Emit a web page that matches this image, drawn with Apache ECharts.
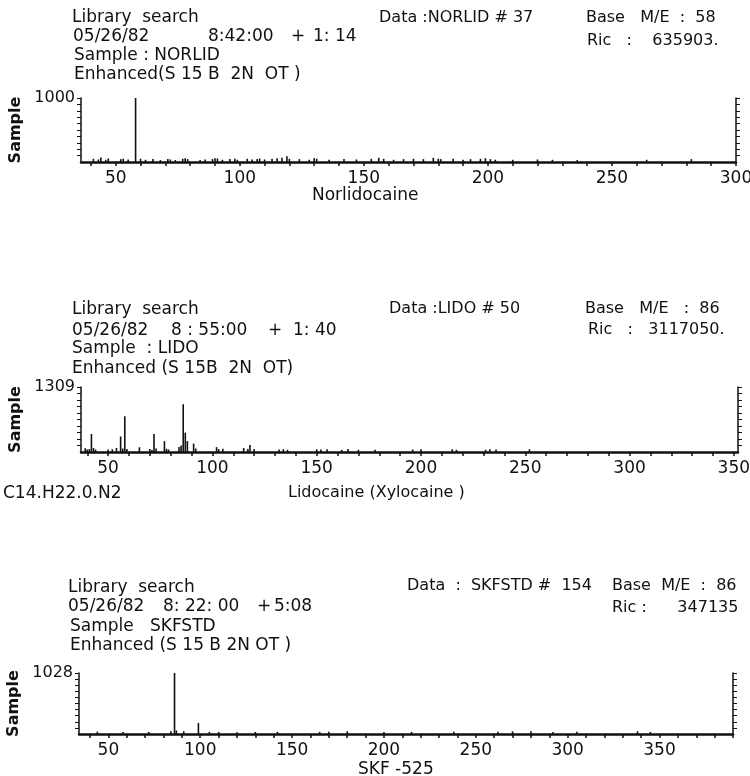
<!DOCTYPE html>
<html>
<head>
<meta charset="utf-8">
<script src="https://cdn.jsdelivr.net/npm/echarts@6/dist/echarts.min.js"></script>
<style>
  html, body { margin: 0; padding: 0; background: #fff; }
  #chart { width: 750px; height: 776px; }
</style>
</head>
<body>
<div id="chart"></div>
<script>
// panel 1 : Norlidocaine
const norMz = [41, 43, 44, 46, 47, 52, 53, 55, 58, 60, 62, 65, 68, 71, 72, 74, 77, 78, 79, 84, 86, 89, 90, 91, 93, 96, 98, 99, 103, 105, 107, 108, 110, 113, 115, 117, 119, 120, 124, 128, 130, 131, 136, 142, 147, 153, 156, 158, 162, 166, 170, 174, 178, 180, 181, 186, 190, 193, 197, 199, 201, 203, 210, 220, 226, 236, 264, 282]
const norInt = [50, 40, 70, 35, 55, 45, 50, 40, 1000, 50, 35, 45, 30, 45, 40, 30, 50, 60, 45, 30, 40, 45, 60, 55, 35, 45, 50, 35, 50, 40, 45, 55, 40, 50, 60, 65, 90, 50, 45, 35, 60, 50, 35, 45, 40, 50, 65, 50, 35, 45, 50, 45, 65, 50, 45, 50, 35, 45, 50, 60, 45, 35, 35, 40, 35, 30, 35, 45]
const norXTicks = [50, 100, 150, 200, 250, 300]

// panel 2 : Lidocaine
const lidoMz = [39, 40, 41, 42, 43, 44, 50, 52, 54, 56, 57, 58, 59, 65, 70, 71, 72, 73, 77, 78, 79, 84, 85, 86, 87, 88, 91, 92, 102, 103, 105, 115, 117, 118, 120, 132, 134, 136, 150, 152, 155, 162, 165, 170, 178, 196, 200, 215, 217, 231, 233, 236, 252]
const lidoInt = [75, 50, 60, 362, 80, 50, 50, 55, 80, 313, 70, 722, 60, 95, 60, 40, 362, 70, 218, 65, 50, 99, 130, 961, 390, 220, 170, 70, 98, 60, 65, 80, 60, 143, 60, 50, 55, 45, 55, 50, 55, 45, 60, 45, 45, 50, 55, 55, 45, 45, 55, 50, 55]
const lidoXTicks = [50, 100, 150, 200, 250, 300, 350]

// panel 3 : SKF-525
const skfMz = [44, 58, 72, 84, 86, 87, 91, 99, 105, 110, 120, 130, 142, 165, 170, 180, 200, 215, 238, 262, 270, 280, 292, 305, 338, 345]
const skfInt = [40, 35, 35, 45, 1028, 60, 45, 185, 35, 35, 30, 35, 35, 35, 40, 45, 35, 35, 40, 40, 45, 45, 35, 40, 45, 35]
const skfXTicks = [50, 100, 150, 200, 250, 300, 350]

const panels = [
  { mz: norMz, val: norInt, xmin: 36, xmax: 300, ymax: 1000, labels: norXTicks, top: 98, height: 64, left: 81, right: 14 },
  { mz: lidoMz, val: lidoInt, xmin: 37, xmax: 352, ymax: 1309, labels: lidoXTicks, top: 387, height: 65, left: 81, right: 12 },
  { mz: skfMz, val: skfInt, xmin: 34, xmax: 390, ymax: 1028, labels: skfXTicks, top: 673, height: 61, left: 79, right: 17 }
]

const FONT = 'DejaVu Sans'
const ink = '#111'

function minorTicks(min, max) {
  const out = []
  for (let v = Math.ceil(min / 10) * 10; v <= max; v += 10) out.push(v)
  return out
}

const grid = [], xAxis = [], yAxis = [], series = []
panels.forEach((p, i) => {
  grid.push({ left: p.left, right: p.right, top: p.top, height: p.height, outerBoundsMode: 'none' })
  xAxis.push({
    type: 'value', gridIndex: i, min: p.xmin, max: p.xmax,
    axisLine: { show: true, lineStyle: { color: ink, width: 2.5 } },
    axisTick: { show: true, length: 4, customValues: minorTicks(p.xmin, p.xmax), lineStyle: { color: ink, width: 1.5 } },
    axisLabel: { customValues: p.labels, color: ink, fontFamily: FONT, fontSize: 17, margin: 8 },
    splitLine: { show: false }
  })
  const ticks = []
  for (let k = 1; k <= 10; k++) ticks.push(p.ymax * k / 10)
  yAxis.push({
    type: 'value', gridIndex: i, min: 0, max: p.ymax,
    name: 'Sample', nameLocation: 'middle', nameGap: 47, nameRotate: 90,
    nameTextStyle: { color: ink, fontFamily: FONT, fontSize: 16, fontWeight: 'bold' },
    axisLine: { show: true, lineStyle: { color: ink, width: 1.5 } },
    axisTick: { show: true, length: 4, customValues: ticks, lineStyle: { color: ink } },
    axisLabel: { customValues: [p.ymax], formatter: v => String(Math.round(v)), color: ink, fontFamily: FONT, fontSize: 16, margin: 6 },
    splitLine: { show: false }
  })
  yAxis.push({
    type: 'value', gridIndex: i, position: 'right', min: 0, max: p.ymax,
    axisLine: { show: true, lineStyle: { color: ink, width: 1.5 } },
    axisTick: { show: true, length: 4, customValues: ticks, lineStyle: { color: ink } },
    axisLabel: { show: false },
    splitLine: { show: false }
  })
  series.push({
    type: 'bar', xAxisIndex: i, yAxisIndex: i * 2,
    barWidth: 1.6,
    itemStyle: { color: ink },
    data: p.mz.map((m, k) => [m, p.val[k]]),
    silent: true
  })
})

// a line of text, each piece placed at its own x
function row(y, pieces, size) {
  return pieces.map(([text, x]) => ({
    type: 'text', left: x, top: y - 10,
    style: { text: text, fill: ink, font: (size || 17) + 'px "' + FONT + '"' }
  }))
}

const graphic = [].concat(
  // panel 1
  row(19, [['Library  search', 72]]),
  row(38, [['05/26/82', 73], ['8:42:00', 208], ['+', 291], ['1: 14', 313]]),
  row(57, [['Sample : NORLID', 74]]),
  row(76, [['Enhanced(S 15 B  2N  OT )', 74]]),
  row(20, [['Data :NORLID # 37', 379]], 16),
  row(20, [['Base   M/E  :  58', 586]], 16),
  row(43, [['Ric   :    635903.', 587]], 16),
  row(197, [['Norlidocaine', 312]]),
  // panel 2
  row(311, [['Library  search', 72]]),
  row(332, [['05/26/82', 72], ['8 : 55:00', 171], ['+', 268], ['1: 40', 293]]),
  row(350, [['Sample  : LIDO', 72]]),
  row(370, [['Enhanced (S 15B  2N  OT)', 72]]),
  row(311, [['Data :LIDO # 50', 389]], 16),
  row(311, [['Base   M/E   :  86', 585]], 16),
  row(332, [['Ric   :   3117050.', 588]], 16),
  row(495, [['C14.H22.0.N2', 3]]),
  row(495, [['Lidocaine (Xylocaine )', 288]], 16),
  // panel 3
  row(589, [['Library  search', 68]]),
  row(608, [['05/26/82', 68], ['8: 22: 00', 163], ['+', 257], ['5:08', 274]]),
  row(628, [['Sample   SKFSTD', 70]]),
  row(647, [['Enhanced (S 15 B 2N OT )', 70]]),
  row(588, [['Data  :  SKFSTD #  154', 407]], 16),
  row(588, [['Base  M/E  :  86', 612]], 16),
  row(610, [['Ric :      347135', 612]], 16),
  row(771, [['SKF -525', 358]])
)

const chart = echarts.init(document.getElementById('chart'))
chart.setOption({
  backgroundColor: '#fff',
  animation: false,
  grid: grid,
  xAxis: xAxis,
  yAxis: yAxis,
  series: series,
  graphic: graphic
})
</script>
</body>
</html>
